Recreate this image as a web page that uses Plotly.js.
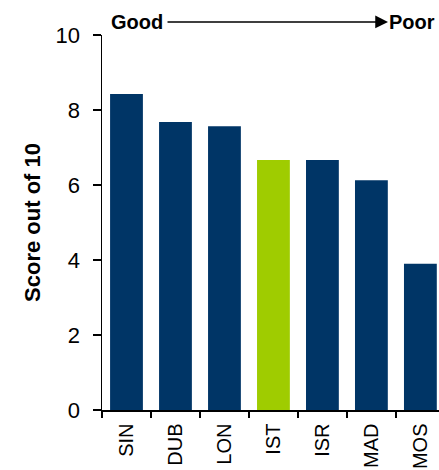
<!DOCTYPE html>
<html>
<head>
<meta charset="utf-8">
<script src="https://cdn.plot.ly/plotly-3.0.1.min.js"></script>
<style>html,body{margin:0;padding:0;background:#fff;}#chart{width:439px;height:470px;}</style>
</head>
<body>
<div id="chart"></div>
<script>
const categories = ["SIN", "DUB", "LON", "IST", "ISR", "MAD", "MOS"];
const scores = [8.43, 7.68, 7.57, 6.67, 6.67, 6.13, 3.9];
const highlight = "IST";
const yTicks = [0, 2, 4, 6, 8, 10];
const yTitle = "Score out of 10";
const leftLabel = "Good";
const rightLabel = "Poor";

const navy = "#003566";
const green = "#9fcc00";
const colors = categories.map(c => c === highlight ? green : navy);

const trace = {
  type: "bar",
  x: categories,
  y: scores,
  marker: {color: colors, line: {width: 0}},
  width: 0.67,
  hoverinfo: "x+y"
};

const font = {family: "Liberation Sans, Arial, sans-serif", color: "#000"};

const layout = {
  width: 439,
  height: 470,
  margin: {l: 102, r: 0, t: 35, b: 60, pad: 0},
  paper_bgcolor: "#fff",
  plot_bgcolor: "#fff",
  showlegend: false,
  font: font,
  xaxis: {
    type: "category",
    range: [-0.5, 6.38],
    showgrid: false,
    zeroline: false,
    showline: true,
    linecolor: "#000",
    linewidth: 1.5,
    ticks: "outside",
    tickson: "boundaries",
    ticklen: 6,
    tickwidth: 1.5,
    tickcolor: "#000",
    tickangle: -90,
    ticklabelstandoff: 4,
    tickfont: {family: font.family, size: 20, color: "#000"},
    fixedrange: true
  },
  yaxis: {
    range: [0, 10],
    tickvals: yTicks,
    ticktext: yTicks.map(String),
    showgrid: false,
    zeroline: false,
    showline: true,
    linecolor: "#000",
    linewidth: 1.5,
    ticks: "outside",
    ticklen: 8,
    tickwidth: 1.5,
    tickcolor: "#000",
    ticklabelstandoff: 8,
    tickfont: {family: font.family, size: 22, color: "#000"},
    title: {text: "<b>" + yTitle + "</b>", font: {family: font.family, size: 22, color: "#000"}, standoff: 9},
    fixedrange: true
  },
  annotations: [
    {
      xref: "paper", yref: "paper", x: 0.02, y: 1.0347,
      xanchor: "left", yanchor: "middle",
      text: "<b>" + leftLabel + "</b>", showarrow: false,
      font: {family: font.family, size: 20, color: "#000"}
    },
    {
      xref: "paper", yref: "paper", x: 0.994, y: 1.0347,
      xanchor: "right", yanchor: "middle",
      text: "<b>" + rightLabel + "</b>", showarrow: false,
      font: {family: font.family, size: 20, color: "#000"}
    },
    {
      xref: "paper", yref: "paper", x: 0.8487, y: 1.0347,
      text: "", showarrow: true,
      ax: -222, ay: 0,
      arrowhead: 2, arrowsize: 1.7, arrowwidth: 1.5, arrowcolor: "#000",
      standoff: 0, startstandoff: 0
    }
  ]
};

Plotly.newPlot("chart", [trace], layout, {displayModeBar: false, staticPlot: true});
</script>
</body>
</html>
